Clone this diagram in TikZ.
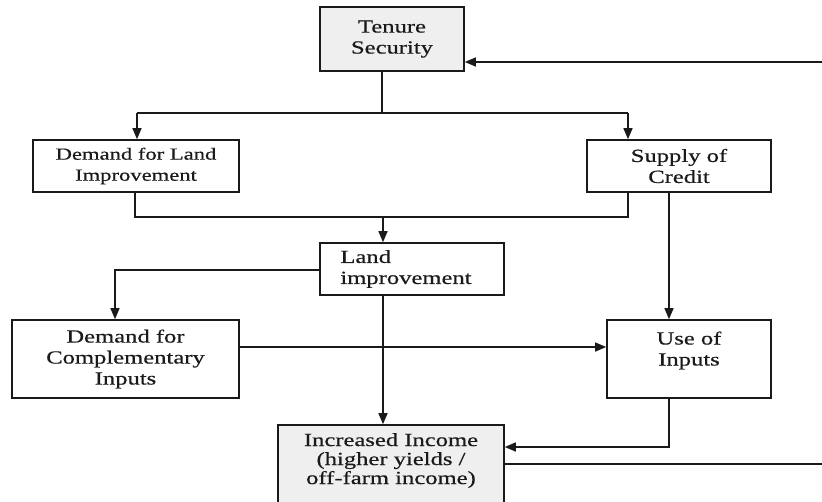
\documentclass[tikz,border=0pt]{standalone}
\usepackage{fontspec}
\setmainfont{Liberation Serif}[FakeStretch=1.33,FakeBold=0.5]
\usetikzlibrary{arrows.meta,calc}
\definecolor{ln}{HTML}{1A1A1A}
\definecolor{boxfill}{HTML}{EFEFEF}
\tikzset{
  box/.style={draw=ln, line width=1.6pt, inner sep=0pt, align=center, text=ln,
    font=\fontsize{18.5}{21}\selectfont},
  grey/.style={fill=boxfill},
  conn/.style={draw=ln, line width=1.4pt},
  arr/.style={conn, -{Triangle[length=11pt,width=9pt]}},
  txt/.style={inner sep=0pt, align=center, text=ln, font=\fontsize{18.5}{19}\selectfont}
}
\begin{document}
\begin{tikzpicture}[x=1pt,y=-1pt]
\useasboundingbox (0,0) rectangle (822,501);
% boxes
\node[box,grey,minimum width=144pt,minimum height=64pt] (ten) at (392,39) {Tenure\\Security};
\node[box,minimum width=206pt,minimum height=52pt,font=\fontsize{17}{21}\selectfont] (dli) at (136,166) {Demand for Land\\Improvement};
\node[box,minimum width=184pt,minimum height=52pt] (soc) at (679,166) {Supply of\\Credit};
\node[box,minimum width=184pt,minimum height=52pt,align=left] (li) at (412,269) {\hspace*{18pt}Land\\\hspace*{18pt}improvement\hspace*{30pt}};
\node[box,minimum width=227pt,minimum height=78pt] (dci) at (125.5,359) {Demand for\\Complementary\\Inputs};
\node[box,minimum width=164pt,minimum height=78pt] (uoi) at (689,359) {Use of\\Inputs\\~};
\node[box,grey,minimum width=226pt,minimum height=82pt] (ii) at (391,466) {};
\node[txt,anchor=north] (iit) at (391,433) {Increased Income\\(higher yields /\\off-farm income)};
% junction coordinates
\coordinate (j1) at (382,113);
\coordinate (jl) at (137,113);
\coordinate (jr) at (628,113);
\coordinate (k1) at (135,217);
\coordinate (k2) at (628,217);
\coordinate (k3) at (383,217);
\coordinate (m1) at (115,270);
\coordinate (u1) at (669,447);
\coordinate (r1) at (822,62);
\coordinate (r2) at (822,464);
% connectors
\draw[conn] (ten.south -| j1) -- (j1);
\draw[conn] (jl) -- (jr);
\draw[arr] (jl) -- (dli.north -| jl);
\draw[arr] (jr) -- (soc.north -| jr);
\draw[conn] (dli.south -| k1) -- (k1) -- (k2) -- (soc.south -| k2);
\draw[arr] (k3) -- (li.north -| k3);
\draw[arr] (li.west |- m1) -- (m1) -- (dci.north -| m1);
\draw[arr] (soc.south -| u1) -- (uoi.north -| u1);
\draw[arr] (dci.east |- 0,347) -- (uoi.west |- 0,347);
\draw[arr] (li.south -| k3) -- (ii.north -| k3);
\draw[arr] (uoi.south -| u1) -- (u1) -- (ii.east |- u1);
\draw[conn] (ii.east |- r2) -- (r2);
\draw[arr] (r1) -- (ten.east |- r1);
\end{tikzpicture}
\end{document}
